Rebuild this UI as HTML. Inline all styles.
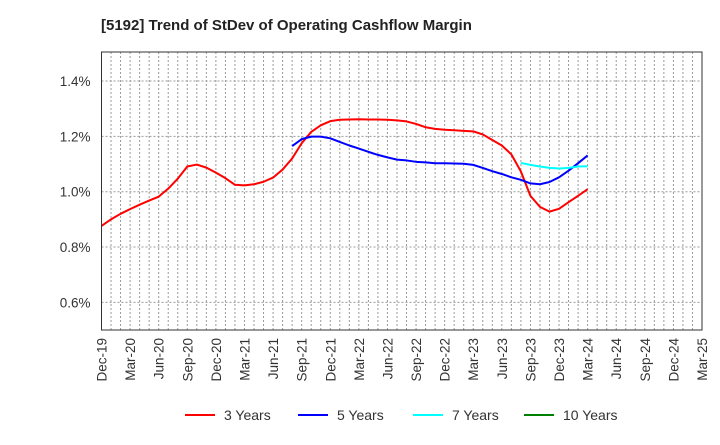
<!DOCTYPE html>
<html><head><meta charset="utf-8"><style>
body{margin:0;background:#fff;font-family:"Liberation Sans",Arial,sans-serif}
svg text{font-family:"Liberation Sans",Arial,sans-serif}
</style></head><body>
<svg id="chart" width="720" height="440" xmlns="http://www.w3.org/2000/svg">
<text x="101" y="30" font-size="15" font-weight="bold" fill="#222">[5192]  Trend of StDev of Operating Cashflow Margin</text>
<g id="grid"></g>
<g id="series"></g>
<g id="axes"></g>
<g id="legend"></g>
</svg>
<script>
const xLabels=["Dec-19","Mar-20","Jun-20","Sep-20","Dec-20","Mar-21","Jun-21","Sep-21","Dec-21","Mar-22","Jun-22","Sep-22","Dec-22","Mar-23","Jun-23","Sep-23","Dec-23","Mar-24","Jun-24","Sep-24","Dec-24","Mar-25"];
const yTicks=[0.6,0.8,1.0,1.2,1.4];
const yTickLabels=["0.6%","0.8%","1.0%","1.2%","1.4%"];
const seriesNames=["3 Years","5 Years","7 Years","10 Years"];
const seriesColors=["#ff0000","#0000ff","#00ffff","#008000"];
// monthly values from Dec-19 (index 0)
const red=[0.876,0.9,0.92,0.937,0.953,0.968,0.982,1.011,1.047,1.091,1.098,1.087,1.069,1.049,1.025,1.023,1.027,1.036,1.051,1.08,1.12,1.175,1.216,1.24,1.255,1.26,1.261,1.262,1.261,1.261,1.26,1.258,1.254,1.245,1.233,1.227,1.224,1.222,1.22,1.218,1.207,1.187,1.167,1.135,1.073,0.985,0.945,0.928,0.938,0.962,0.985,1.009];
const blueStart=20;
const blue=[1.165,1.19,1.199,1.199,1.193,1.18,1.167,1.156,1.144,1.133,1.124,1.116,1.113,1.108,1.106,1.103,1.103,1.102,1.101,1.097,1.086,1.074,1.064,1.052,1.043,1.03,1.027,1.035,1.052,1.076,1.103,1.131];
const cyanStart=44;
const cyan=[1.104,1.097,1.091,1.086,1.084,1.086,1.091,1.092];
const green=[];

const L=101.5,R=702,T=52,B=330;
const months=63;
const xS=m=>L+(R-L)*m/months;
const yMin=0.5,yMax=1.505;
const yS=v=>B-(v-yMin)/(yMax-yMin)*(B-T);
const NS="http://www.w3.org/2000/svg";
function mk(tag,attrs,parent){const e=document.createElementNS(NS,tag);for(const k in attrs)e.setAttribute(k,attrs[k]);parent.appendChild(e);return e;}
const grid=document.getElementById('grid'),axes=document.getElementById('axes'),ser=document.getElementById('series'),leg=document.getElementById('legend');
for(let m=1;m<months;m++){const l=mk('line',{x1:xS(m),x2:xS(m),y1:T,y2:B,stroke:'#999','stroke-width':1,'stroke-dasharray':'2,2'},grid);

}
yTicks.forEach((v,i)=>{const y=yS(v);
const l=mk('line',{x1:L,x2:R,y1:y,y2:y,stroke:'#999','stroke-width':1,'stroke-dasharray':'2,2'},grid);


const t=mk('text',{x:L-11,y:y+5,'text-anchor':'end','font-size':13.5,fill:'#333'},axes);t.textContent=yTickLabels[i];

});
const fr=mk('rect',{x:L,y:T,width:R-L,height:B-T,fill:'none',stroke:'#333','stroke-width':1},axes);


xLabels.forEach((s,i)=>{const x=xS(i*3);
const t=mk('text',{transform:`translate(${x+5},${B+8}) rotate(-90)`,'text-anchor':'end','font-size':13.5,fill:'#333'},axes);t.textContent=s;

});
function draw(vals,start,color,name){if(!vals.length)return;
const d=vals.map((v,i)=>(i?'L':'M')+xS(start+i).toFixed(2)+','+yS(v).toFixed(2)).join(' ');
const p=mk('path',{d:d,fill:'none',stroke:color,'stroke-width':2,'stroke-linejoin':'round'},ser);

}
draw(red,0,seriesColors[0],'line-3-years');
draw(blue,blueStart,seriesColors[1],'line-5-years');
draw(cyan,cyanStart,seriesColors[2],'line-7-years');
draw(green,0,seriesColors[3],'line-10-years');
const lx=[185,298,413,524];
seriesNames.forEach((n,i)=>{const g=mk('g',{},leg);


mk('line',{x1:lx[i],x2:lx[i]+30,y1:415,y2:415,stroke:seriesColors[i],'stroke-width':2},g);
const t=mk('text',{x:lx[i]+39,y:420,'font-size':14,fill:'#333'},g);t.textContent=n;

});
</script>
</body></html>
